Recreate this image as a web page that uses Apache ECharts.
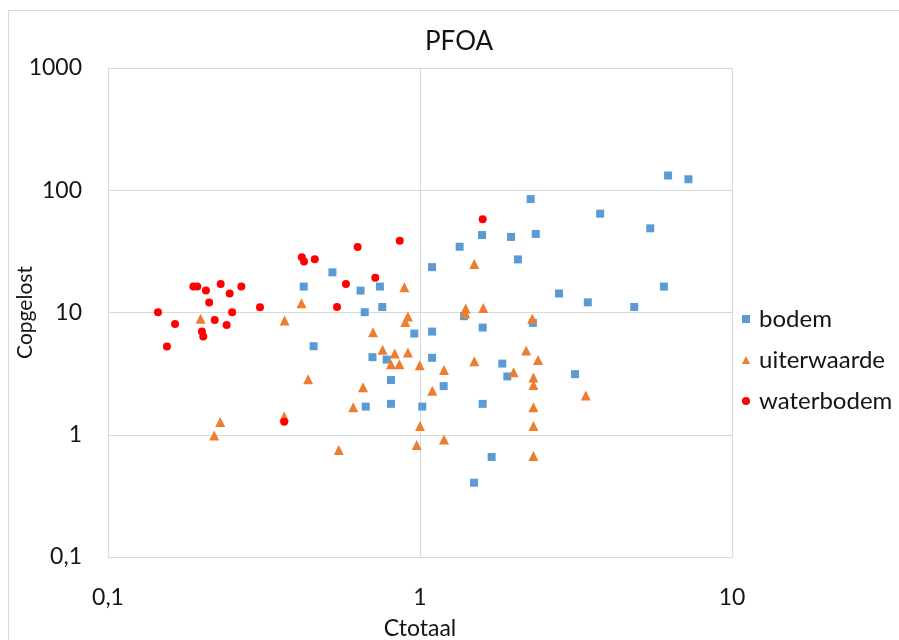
<!DOCTYPE html>
<html><head><meta charset="utf-8">
<script src="https://cdn.jsdelivr.net/npm/echarts@6/dist/echarts.min.js"></script>
<style>html,body{margin:0;padding:0;background:#fff}#c{width:899px;height:640px}</style>
</head><body><div id="c"></div>
<script>
const titleText = 'PFOA';
const xName = 'Ctotaal';
const yName = 'Copgelost';
const seriesNames = ['bodem', 'uiterwaarde', 'waterbodem'];

const bodemX = [0.424,0.456,1.34,1.093,0.524,0.645,0.744,0.665,0.757,0.959,1.093,0.704,0.782,1.093,0.807,1.191,0.67,0.807,1.017,2.263,3.78,1.58,1.958,2.35,2.06,2.79,3.45,1.384,2.30,1.588,1.836,1.905,3.14,1.588,1.697,1.49,6.24,7.25,5.47,6.05,4.86];
const bodemY = [16.3,5.3,34.5,23.5,21.3,15.1,16.3,10.06,11.1,6.72,6.98,4.31,4.12,4.26,2.8,2.5,1.70,1.79,1.70,84.7,64.3,43,41.5,43.9,27.2,14.3,12.1,9.33,8.22,7.53,3.82,3.0,3.13,1.79,0.658,0.405,132,123,48.8,16.3,11.1];

const uiterX = [0.198,0.368,0.417,0.438,0.229,0.219,0.367,0.891,0.915,0.897,0.707,0.759,0.83,0.915,0.807,0.859,0.998,1.194,0.657,1.095,0.611,1.0,0.976,1.194,0.549,1.493,1.401,1.397,1.595,2.29,2.19,2.39,1.493,1.996,2.31,2.31,3.40,2.31,2.31,2.31];
const uiterY = [8.87,8.59,11.9,2.85,1.27,0.987,1.41,16.1,9.26,8.38,6.9,4.95,4.61,4.7,3.78,3.78,3.71,3.38,2.45,2.29,1.68,1.18,0.824,0.915,0.75,24.9,10.8,9.87,10.9,8.9,4.89,4.08,4.0,3.25,2.94,2.55,2.09,1.68,1.18,0.67];

const waterX = [0.1446,0.164,0.1545,0.1877,0.1933,0.206,0.211,0.2297,0.2455,0.2675,0.250,0.2198,0.240,0.200,0.202,0.307,0.367,0.418,0.425,0.46,0.631,0.861,0.579,0.719,0.542,1.588];
const waterY = [10.06,8.07,5.27,16.3,16.3,15.1,12.05,17.1,14.3,16.3,10.06,8.7,7.92,6.98,6.36,11.05,1.28,28.3,26.1,27.2,34.4,38.7,17.1,19.2,11.1,57.9];

const xMin = 0.1, xMax = 10;
const yMin = 0.1, yMax = 1000;

function pairs(xs, ys){ return xs.map((x,i)=>[x, ys[i]]); }
function fmt(v){ return String(+v.toPrecision(6)).replace('.', ','); }

const FONT = 'Lato';
const TXT = '#141414';
const chart = echarts.init(document.getElementById('c'), null, {renderer:'canvas'});
chart.setOption({
  animation:false,
  backgroundColor:'#fff',
  textStyle:{fontFamily:FONT},
  graphic:[{type:'rect', shape:{x:8.5,y:10.5,width:1000,height:1000}, style:{fill:'none', stroke:'#d9d9d9', lineWidth:1}, silent:true}],
  title:{text:titleText, left:420, top:24, textStyle:{fontFamily:FONT, fontSize:26, fontWeight:'normal', color:TXT}},
  grid:{left:108, right:167, top:68, bottom:83, outerBoundsMode:'none', containLabel:false},
  legend:{orient:'vertical', left:737, top:302, itemWidth:8, itemHeight:8, itemGap:17,
    textStyle:{fontFamily:FONT, fontSize:24, color:TXT, padding:[0,0,0,4]}, data:seriesNames},
  xAxis:{type:'log', logBase:10, min:xMin, max:xMax, name:xName, nameLocation:'middle', nameGap:60, nameMoveOverlap:false,
    nameTextStyle:{fontFamily:FONT, fontSize:23, color:TXT},
    axisLine:{lineStyle:{color:'#d9d9d9'}}, axisTick:{show:false},
    axisLabel:{formatter:fmt, margin:29, fontSize:23, color:TXT, fontFamily:FONT},
    splitLine:{show:true, lineStyle:{color:'#d9d9d9'}}, minorTick:{show:false}},
  yAxis:{type:'log', logBase:10, min:yMin, max:yMax, name:yName, nameLocation:'middle', nameGap:72, nameMoveOverlap:false,
    nameTextStyle:{fontFamily:FONT, fontSize:21, color:TXT},
    axisLine:{show:true, lineStyle:{color:'#d9d9d9'}}, axisTick:{show:false},
    axisLabel:{formatter:fmt, margin:26, fontSize:23, color:TXT, fontFamily:FONT},
    splitLine:{show:true, lineStyle:{color:'#d9d9d9'}}},
  series:[
    {name:seriesNames[0], type:'scatter', symbol:'rect', symbolSize:8, itemStyle:{color:'#5b9bd5', opacity:1}, data:pairs(bodemX,bodemY)},
    {name:seriesNames[1], type:'scatter', symbol:'triangle', symbolSize:10, itemStyle:{color:'#ed7d31', opacity:1}, data:pairs(uiterX,uiterY)},
    {name:seriesNames[2], type:'scatter', symbol:'circle', symbolSize:8, itemStyle:{color:'#ff0000', opacity:1}, data:pairs(waterX,waterY)}
  ]
});
</script></body></html>
